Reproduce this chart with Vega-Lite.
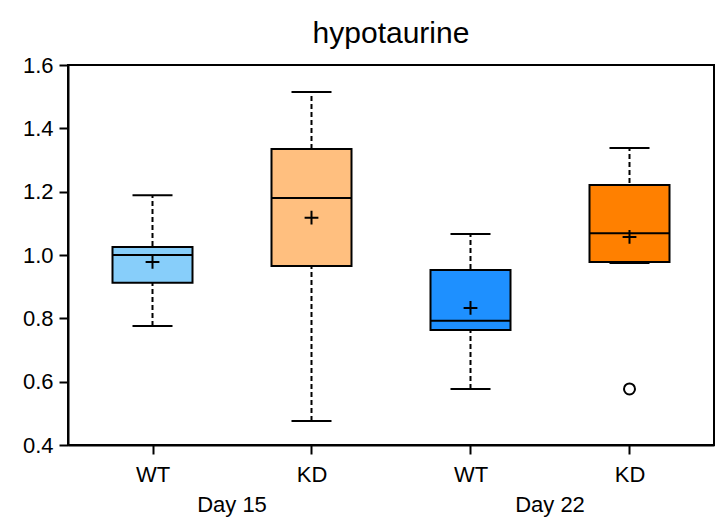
{
  "$schema": "https://vega.github.io/schema/vega-lite/v6.json",
  "autosize": "none",
  "width": 646,
  "height": 380,
  "padding": {"left": 68, "top": 65, "right": 5, "bottom": 84},
  "background": "white",
  "config": {
    "font": "Liberation Sans",
    "view": {"stroke": "black", "strokeWidth": 2}
  },
  "title": {"text": "hypotaurine", "fontSize": 30, "fontWeight": "normal", "color": "black", "offset": 5},
  "datasets": {
    "stats": [
      {"pos": 1, "group": "Day 15 WT", "lower": 0.776, "q1": 0.912, "median": 1.0, "q3": 1.025, "upper": 1.189, "mean": 0.978},
      {"pos": 2, "group": "Day 15 KD", "lower": 0.476, "q1": 0.965, "median": 1.18, "q3": 1.335, "upper": 1.515, "mean": 1.118},
      {"pos": 3, "group": "Day 22 WT", "lower": 0.577, "q1": 0.763, "median": 0.792, "q3": 0.953, "upper": 1.066, "mean": 0.833},
      {"pos": 4, "group": "Day 22 KD", "lower": 0.975, "q1": 0.978, "median": 1.069, "q3": 1.221, "upper": 1.338, "mean": 1.057}
    ],
    "outliers": [
      {"pos": 4, "group": "Day 22 KD", "value": 0.577}
    ],
    "days": [
      {"pos": 1.5, "label": "Day 15", "y": 0.4},
      {"pos": 3.5, "label": "Day 22", "y": 0.4}
    ]
  },
  "encoding": {
    "x": {
      "field": "pos", "type": "quantitative",
      "scale": {"domain": [0.5, 4.5], "nice": false, "zero": false},
      "axis": {
        "title": null, "values": [1, 2, 3, 4], "grid": false,
        "labelExpr": "datum.value == 1 || datum.value == 3 ? 'WT' : 'KD'",
        "labelFontSize": 22, "labelColor": "black", "labelPadding": 10,
        "tickSize": 9, "tickWidth": 2, "tickColor": "black",
        "domainColor": "black", "domainWidth": 2
      }
    }
  },
  "layer": [
    {
      "data": {"name": "stats"},
      "mark": {"type": "rule", "strokeDash": [5, 3], "strokeWidth": 2, "color": "black"},
      "encoding": {
        "y": {
          "field": "lower", "type": "quantitative",
          "scale": {"domain": [0.4, 1.6], "nice": false, "zero": false},
          "axis": {
            "title": null, "values": [0.4, 0.6, 0.8, 1.0, 1.2, 1.4, 1.6], "format": ".1f", "grid": false,
            "labelFontSize": 22, "labelColor": "black", "labelPadding": 6,
            "tickSize": 9, "tickWidth": 2, "tickColor": "black",
            "domainColor": "black", "domainWidth": 2
          }
        },
        "y2": {"field": "upper"}
      }
    },
    {
      "data": {"name": "stats"},
      "mark": {"type": "tick", "orient": "horizontal", "size": 40, "thickness": 2, "color": "black", "opacity": 1},
      "encoding": {"y": {"field": "upper", "type": "quantitative"}}
    },
    {
      "data": {"name": "stats"},
      "mark": {"type": "tick", "orient": "horizontal", "size": 40, "thickness": 2, "color": "black", "opacity": 1},
      "encoding": {"y": {"field": "lower", "type": "quantitative"}}
    },
    {
      "data": {"name": "stats"},
      "mark": {"type": "bar", "width": 80, "stroke": "black", "strokeWidth": 2, "opacity": 1},
      "encoding": {
        "y": {"field": "q1", "type": "quantitative"},
        "y2": {"field": "q3"},
        "color": {
          "field": "group", "type": "nominal", "legend": null,
          "scale": {"domain": ["Day 15 WT", "Day 15 KD", "Day 22 WT", "Day 22 KD"], "range": ["#87CEFA", "#FFBF7F", "#1E90FF", "#FF8000"]}
        }
      }
    },
    {
      "data": {"name": "stats"},
      "mark": {"type": "tick", "orient": "horizontal", "size": 80, "thickness": 2, "color": "black", "opacity": 1},
      "encoding": {"y": {"field": "median", "type": "quantitative"}}
    },
    {
      "data": {"name": "stats"},
      "mark": {"type": "point", "shape": "M-1,0L1,0M0,-1L0,1", "size": 190, "filled": false, "stroke": "black", "strokeWidth": 2, "opacity": 1},
      "encoding": {"y": {"field": "mean", "type": "quantitative"}}
    },
    {
      "data": {"name": "outliers"},
      "mark": {"type": "point", "shape": "circle", "size": 121, "filled": false, "stroke": "black", "strokeWidth": 2, "opacity": 1},
      "encoding": {"y": {"field": "value", "type": "quantitative"}}
    },
    {
      "data": {"name": "days"},
      "mark": {"type": "text", "fontSize": 22, "color": "black", "dy": 60, "baseline": "middle", "clip": false},
      "encoding": {
        "y": {"field": "y", "type": "quantitative"},
        "text": {"field": "label"}
      }
    }
  ]
}
